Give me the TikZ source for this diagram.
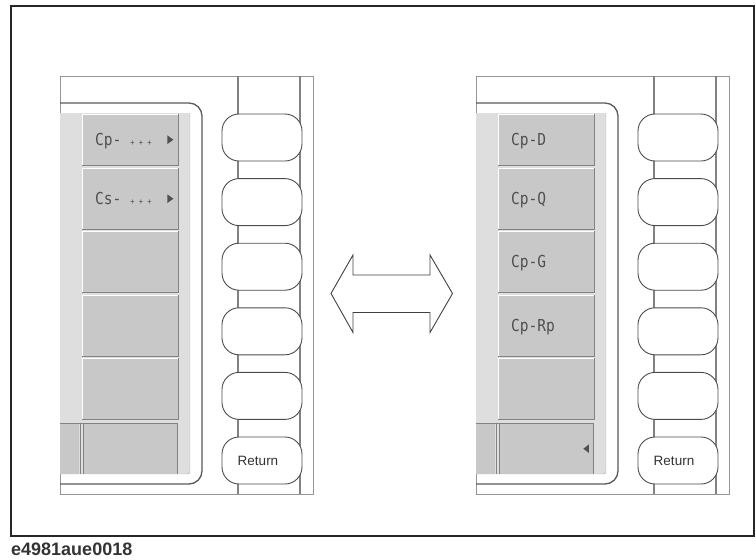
\documentclass[tikz,border=0pt]{standalone}
\usepackage{fontspec}
\setmainfont{Liberation Sans}
\newfontfamily\lcdfont[FakeStretch=0.88]{DejaVu Sans Mono}
\definecolor{btngray}{RGB}{200,200,200}
\definecolor{panelgray}{RGB}{222,222,222}
\definecolor{linegray}{RGB}{150,150,150}
\definecolor{shadegray}{RGB}{130,130,130}
\definecolor{textgray}{RGB}{80,80,80}
\tikzset{
  keyshape/.style={draw=black!70, fill=white, rounded corners=17pt, line width=0.9pt,
    minimum width=80pt, minimum height=47pt, inner sep=0pt},
  softbtn/.style={fill=btngray, minimum width=96pt, inner sep=0pt, anchor=north west},
  btnlabel/.style={anchor=base west, xshift=13pt, yshift=-6pt, text=textgray,
    font=\lcdfont\fontsize{16.5}{16.5}\selectfont, inner sep=0pt},
  returntext/.style={text=black!80, font=\fontsize{13.5}{14}\selectfont, inner sep=0pt},
  bezel/.style={draw=black!65, line width=1.3pt, rounded corners=13pt}
}
\begin{document}
\begin{tikzpicture}[x=1pt, y=-1pt]
  \useasboundingbox (0,0) rectangle (756,560);
  % outer frame
  \draw[line width=2.2pt, black!85] (11,6) rectangle (754,536);
  \node[anchor=base west, inner sep=0pt, text=black!80,
    font=\bfseries\fontsize{18}{20}\selectfont] (figid) at (11,555) {e4981aue0018};

  \foreach \dx/\pn in {0/L, 416/R} {
    \begin{scope}[xshift=\dx pt]
      \draw[linegray, line width=1pt] (60,76) rectangle (313,494);
      \draw[shadegray, line width=1.2pt] (238,76) -- (238,494) (300,76) -- (300,494);
      \draw[bezel] (60,103) -- (202,103) -- (202,484) -- (60,484);
      \fill[panelgray] (60,113) rectangle (190,474);
      \draw[black!30, rounded corners=3pt] (190,113) -- (190,474) -- (60,474);
      % soft buttons
      \foreach \i/\top/\bot in {1/114/165, 2/168/229, 3/231/292, 4/295/356, 5/358/419} {
        \node[softbtn, minimum height={\bot-\top}] (btn\pn\i) at (82,\top) {};
        \draw[white, line width=1pt] (btn\pn\i.south west) |- (btn\pn\i.north east);
        \draw[shadegray, line width=1.5pt] (btn\pn\i.north east) |- (btn\pn\i.south west);
      }
      % bottom row
      \fill[btngray] (60,423) rectangle (79,474);
      \node[softbtn, minimum width=93pt, minimum height=51pt] (bot\pn) at (84,423) {};
      \draw[shadegray] (60,423) -- (177,423) (80,423) -- (80,474) (83,423) -- (83,474)
        (bot\pn.north east) -- (bot\pn.south east);
      % hard keys
      \foreach \j in {0,...,5}
        \node[keyshape] (key\pn\j) at (262,{137.5+64.6*\j}) {};
      \node[returntext, xshift=-4pt] (ret\pn) at (key\pn5) {Return};
    \end{scope}
  }

  % labels, left panel
  \node[btnlabel] (lblL1) at (btnL1.west) {Cp-\hspace{9pt}{\fontsize{8}{8}\selectfont+ + +}};
  \node[btnlabel] (lblL2) at (btnL2.west) {Cs-\hspace{9pt}{\fontsize{8}{8}\selectfont+ + +}};
  \foreach \i in {1,2}
    \fill[textgray] ([xshift=-11pt,yshift=4.3pt]btnL\i.east) -- ([xshift=-11pt,yshift=-4.3pt]btnL\i.east)
      -- ([xshift=-5pt]btnL\i.east) -- cycle;

  % labels, right panel
  \foreach \i/\txt in {1/Cp-D, 2/Cp-Q, 3/Cp-G, 4/Cp-Rp}
    \node[btnlabel] (lblR\i) at (btnR\i.west) {\txt};
  \fill[textgray] ([xshift=-4.5pt,yshift=4.3pt]botR.east) -- ([xshift=-4.5pt,yshift=-4.3pt]botR.east)
    -- ([xshift=-10pt]botR.east) -- cycle;

  % double arrow
  \draw[black!75, line width=0.9pt, line join=miter]
    (331,293.5) -- (353,255) -- (353,275) -- (430,275) -- (430,255) -- (452.5,293.5)
    -- (430,332.5) -- (430,312.5) -- (353,312.5) -- (353,332.5) -- cycle;
\end{tikzpicture}
\end{document}
